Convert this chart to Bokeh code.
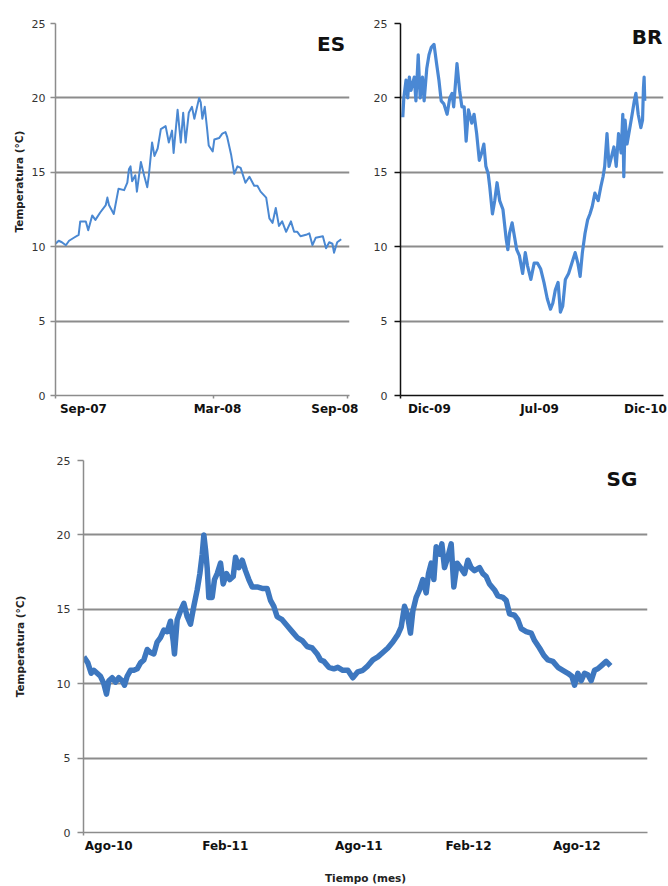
from bokeh.plotting import figure
from bokeh.models import Range1d, FixedTicker, LinearAxis, Label, Grid, Title
from bokeh.layouts import column, row
from bokeh.embed import file_html
from bokeh.resources import INLINE

# ---------------- data (x = days from the start of each axis) ----------------
Y_TICKS = [0, 5, 10, 15, 20, 25]

# ES
es_tick_days = [0, 198, 366]
es_label_days = [35, 203, 350]
es_labels = ["Sep-07", "Mar-08", "Sep-08"]
es_day = [0, 4, 8, 13, 17, 23, 29, 31, 38, 41, 46, 50, 56, 63, 65, 67, 73, 79, 86, 90,
          92, 94, 96, 100, 102, 107, 111, 115, 117, 121, 124, 128, 132, 138, 142, 146, 148, 153, 157, 160,
          163, 167, 171, 174, 180, 182, 184, 187, 190, 192, 197, 199, 205, 209, 213, 215, 220, 224, 228, 232,
          238, 243, 249, 253, 257, 264, 268, 272, 276, 280, 284, 289, 295, 299, 303, 307, 314, 318, 322, 326,
          335, 339, 343, 347, 349, 353, 358]
es_temp = [10.2, 10.4, 10.3, 10.1, 10.4, 10.6, 10.8, 11.7, 11.7, 11.1, 12.1, 11.8, 12.3, 12.8, 13.3, 12.8, 12.2, 13.9, 13.8, 14.3,
           15.2, 15.4, 14.4, 14.8, 13.7, 15.7, 14.8, 14.0, 14.8, 17.0, 16.1, 16.6, 17.9, 18.1, 17.0, 17.8, 16.3, 19.2, 17.0, 19.0,
           17.0, 19.0, 19.4, 18.6, 20.0, 19.7, 18.6, 19.4, 17.9, 16.8, 16.4, 17.2, 17.3, 17.6, 17.7, 17.4, 16.2, 14.9, 15.4, 15.3,
           14.3, 14.7, 14.1, 14.1, 13.7, 13.3, 11.9, 11.6, 12.6, 11.4, 11.7, 11.0, 11.7, 11.0, 11.0, 10.7, 10.8, 10.9, 10.1, 10.6,
           10.7, 9.9, 10.3, 10.2, 9.6, 10.3, 10.5]

# BR
br_tick_days = [0]
br_label_days = [40, 193, 340]
br_labels = ["Dic-09", "Jul-09", "Dic-10"]
br_day = [3.2, 4.6, 7.7, 10.0, 12.3, 14.6, 19.1, 21.4, 24.6, 27.3, 30.5, 32.8, 36.5, 39.6, 42.8,
          46.5, 50.1, 53.3, 56.5, 60.2, 64.7, 68.4, 71.5, 73.8, 78.4, 82.0, 85.2, 88.4, 91.1, 94.3,
          98.9, 102.1, 105.7, 109.4, 112.6, 115.7, 118.5, 121.7, 123.9, 127.6, 130.8, 134.0, 137.6, 142.2, 146.7,
          149.0, 151.3, 154.9, 158.1, 161.3, 165.0, 169.5, 173.2, 176.4, 180.9, 185.5, 190.0, 194.6, 199.1, 203.7,
          208.2, 211.4, 214.9, 218.7, 221.9, 225.1, 228.8, 233.3, 237.9, 242.4, 246.1, 249.3, 252.4, 256.1, 259.7,
          262.9, 266.1, 269.8, 274.3, 277.9, 281.1, 283.4, 286.6, 289.4, 292.6, 296.2, 299.4, 302.6, 306.2, 308.5,
          309.9, 311.7, 314.4, 317.6, 320.8, 324.5, 326.7, 329.9, 333.6, 335.9, 337.2, 338.1, 339.0]
br_temp = [18.7, 20.0, 21.2, 20.0, 21.4, 20.5, 21.4, 19.8, 22.9, 20.0, 21.4, 19.8, 22.0, 22.9, 23.4,
           23.6, 22.3, 21.2, 19.8, 19.6, 18.9, 20.0, 20.3, 19.4, 22.3, 20.5, 19.4, 19.4, 17.1, 19.2,
           18.3, 18.9, 17.6, 15.8, 16.3, 16.9, 15.4, 14.9, 14.0, 12.2, 13.1, 14.3, 13.1, 12.5, 10.5,
           9.8, 10.9, 11.6, 10.7, 9.8, 9.4, 8.2, 9.6, 8.7, 7.8, 8.9, 8.9, 8.5, 7.6, 6.5,
           5.8, 6.2, 7.1, 7.6, 5.6, 6.0, 7.8, 8.2, 8.9, 9.6, 8.9, 8.0, 9.6, 10.9, 11.8,
           12.2, 12.7, 13.6, 13.1, 14.0, 14.7, 15.4, 17.6, 15.4, 16.0, 16.7, 15.4, 17.6, 16.3, 18.9,
           14.7, 18.5, 16.9, 17.8, 18.7, 19.8, 20.3, 18.9, 18.0, 18.5, 20.7, 21.4, 19.8]

# SG
sg_tick_days = [0]
sg_label_days = [40, 225, 437, 611, 783]
sg_labels = ["Ago-10", "Feb-11", "Ago-11", "Feb-12", "Ago-12"]
sg_day = [0.5, 6.9, 12.2, 16.4, 21.7, 27.0, 32.3, 36.5, 40.2, 45.5, 50.8, 56.1, 61.4, 65.1, 69.3,
          74.6, 79.9, 85.2, 90.5, 95.8, 101.1, 106.3, 111.6, 116.9, 122.2, 127.5, 132.8, 138.1, 142.3, 144.4,
          148.7, 154.0, 159.3, 164.6, 169.8, 175.1, 180.4, 184.7, 188.4, 191.0, 193.7, 196.3, 198.9, 204.2, 207.9,
          212.2, 217.5, 221.7, 227.0, 232.3, 237.6, 241.3, 246.6, 251.9, 257.1, 262.4, 267.7, 275.7, 283.6, 291.5,
          296.8, 302.1, 307.4, 315.3, 323.3, 331.2, 339.2, 347.1, 355.0, 363.0, 370.9, 376.2, 381.5, 389.4, 397.4,
          403.7, 411.6, 419.6, 427.5, 435.4, 443.4, 451.3, 459.3, 467.2, 475.1, 483.1, 491.0, 498.9, 504.2, 509.5,
          513.8, 519.0, 522.8, 528.0, 533.3, 538.6, 543.9, 547.6, 551.9, 556.1, 559.8, 565.1, 568.8, 573.0, 578.3,
          583.6, 587.8, 593.1, 598.4, 604.8, 610.1, 615.3, 620.6, 628.6, 633.9, 639.2, 644.4, 652.4, 657.7, 665.6,
          670.9, 676.2, 684.1, 689.4, 694.7, 702.6, 710.6, 715.9, 723.8, 730.7, 737.0, 745.0, 753.0, 760.8, 768.8,
          775.1, 779.4, 784.7, 790.0, 795.2, 800.5, 805.8, 811.1, 816.4, 821.7, 829.6, 836.5]
sg_temp = [11.8, 11.4, 10.7, 10.9, 10.7, 10.5, 10.0, 9.3, 10.2, 10.4, 10.1, 10.4, 10.2, 9.9, 10.5,
           10.9, 10.9, 11.0, 11.4, 11.6, 12.3, 12.1, 12.0, 12.8, 13.1, 13.6, 13.5, 14.2, 12.9, 12.0,
           14.3, 14.9, 15.4, 14.5, 14.0, 15.2, 16.3, 17.4, 18.7, 20.0, 19.0, 17.8, 15.8, 15.8, 17.0,
           17.4, 18.1, 16.7, 17.4, 17.0, 17.2, 18.5, 17.8, 18.3, 17.6, 17.0, 16.5, 16.5, 16.4, 16.4,
           15.6, 15.2, 14.5, 14.3, 13.9, 13.5, 13.1, 12.9, 12.5, 12.4, 12.0, 11.6, 11.5, 11.1, 11.0,
           11.1, 10.9, 10.9, 10.4, 10.8, 10.9, 11.2, 11.6, 11.8, 12.1, 12.4, 12.8, 13.3, 13.8, 15.2,
           14.7, 13.4, 14.9, 15.8, 16.3, 17.0, 16.1, 17.4, 18.1, 17.0, 19.2, 18.7, 19.4, 17.8, 18.5,
           19.4, 16.5, 18.1, 17.8, 17.4, 18.3, 17.8, 17.6, 17.8, 17.4, 17.2, 16.7, 16.3, 15.9, 15.8,
           15.6, 14.7, 14.6, 14.3, 13.7, 13.5, 13.4, 12.9, 12.4, 11.9, 11.6, 11.5, 11.1, 10.9, 10.7,
           10.5, 9.9, 10.7, 10.2, 10.7, 10.6, 10.2, 10.9, 11.0, 11.2, 11.5, 11.2]

Y_TITLE = "Temperatura (°C)"
X_TITLE = "Tiempo (mes)"

# ---------------- styling ----------------
FONT = "DejaVu Sans"
GRID = "#8c8c8c"
TITLE_SIZE = "10.5px"


def panel(width, height, left, right, top, bottom, xmax,
          tick_days, label_days, labels, x_vals, y_vals, line_color, line_width,
          tag, tag_x, tag_y, axis_color=GRID, y_title_mode=None, y_label_standoff=6,
          y_label_offset=0, y_tick_out=5, y_standoff=5, x_label=None, x_label_standoff=5):
    p = figure(width=width, height=height, x_range=Range1d(0, xmax), y_range=Range1d(0, 25),
               x_axis_type=None, y_axis_type=None, output_backend="svg",
               toolbar_location=None, min_border_left=left, min_border_right=right,
               min_border_top=top, min_border_bottom=bottom)
    p.outline_line_color = None
    p.background_fill_color = "white"
    p.border_fill_color = "white"

    yax = LinearAxis(ticker=FixedTicker(ticks=Y_TICKS))
    yax.axis_line_color = axis_color
    yax.axis_line_width = 1.5
    yax.major_tick_line_color = axis_color
    yax.major_tick_line_width = 1.5
    yax.major_tick_out = y_tick_out
    yax.major_tick_in = 0
    yax.minor_tick_line_color = None
    yax.major_label_standoff = y_standoff
    yax.major_label_text_font = FONT
    yax.major_label_text_font_size = "11px"
    yax.major_label_text_color = "#333333"
    if y_title_mode == "axis":
        yax.axis_label = Y_TITLE
        yax.axis_label_text_font = FONT
        yax.axis_label_text_font_size = TITLE_SIZE
        yax.axis_label_text_font_style = "bold"
        yax.axis_label_text_color = "#222222"
        yax.axis_label_standoff = y_label_standoff
    p.add_layout(yax, "left")
    if y_title_mode == "title":
        p.add_layout(Title(text=Y_TITLE, align="left", offset=y_label_offset,
                           standoff=y_label_standoff, text_font=FONT, text_font_size=TITLE_SIZE,
                           text_font_style="bold", text_color="#222222"), "left")

    p.add_layout(Grid(dimension=1, ticker=FixedTicker(ticks=[5, 10, 15, 20, 25]),
                      grid_line_color=GRID, grid_line_width=2))

    # axis line with its tick marks
    xa = LinearAxis(ticker=FixedTicker(ticks=tick_days),
                    major_label_overrides={d: "" for d in tick_days})
    xa.axis_line_color = axis_color
    xa.axis_line_width = 1.5
    xa.major_tick_line_color = axis_color
    xa.major_tick_line_width = 1.5
    xa.major_tick_out = 3
    xa.major_tick_in = 0
    xa.minor_tick_line_color = None
    xa.major_label_text_font_size = "1px"
    xa.major_label_standoff = 0
    p.add_layout(xa, "below")

    # tick labels
    xb = LinearAxis(ticker=FixedTicker(ticks=label_days),
                    major_label_overrides={d: s for d, s in zip(label_days, labels)})
    xb.axis_line_color = None
    xb.major_tick_line_color = None
    xb.major_tick_out = 0
    xb.major_tick_in = 0
    xb.minor_tick_line_color = None
    xb.major_label_standoff = 3
    xb.major_label_text_font = FONT
    xb.major_label_text_font_size = "12px"
    xb.major_label_text_font_style = "bold"
    xb.major_label_text_color = "#111111"
    if x_label:
        xb.axis_label = x_label
        xb.axis_label_text_font = FONT
        xb.axis_label_text_font_size = TITLE_SIZE
        xb.axis_label_text_font_style = "bold"
        xb.axis_label_text_color = "#222222"
        xb.axis_label_standoff = x_label_standoff
    p.add_layout(xb, "below")

    p.line(x_vals, y_vals, line_color=line_color, line_width=line_width, line_join="round")

    p.add_layout(Label(x=tag_x, y=tag_y, text=tag, text_align="right", text_baseline="top",
                       text_font=FONT, text_font_size="20px", text_font_style="bold",
                       text_color="#111111"))
    return p


p_es = panel(370, 430, 55, 21, 20, 35, 368.4, es_tick_days, es_label_days, es_labels,
             es_day, es_temp, "#4a88d2", 2.0, "ES", 363, 24.4,
             y_title_mode="title", y_label_standoff=8, y_label_offset=163)

p_br = panel(298, 430, 26, 5, 23, 33, 365, br_tick_days, br_label_days, br_labels,
             br_day, br_temp, "#4a88d4", 3.2, "BR", 363.6, 24.87,
             axis_color="#111111", y_tick_out=6, y_standoff=7)

p_sg = panel(668, 456, 83, 21, 30, 53, 895.2, sg_tick_days, sg_label_days, sg_labels,
             sg_day, sg_temp, "#3d77bf", 5.5, "SG", 879, 24.53,
             y_title_mode="axis", y_label_standoff=28, y_tick_out=6, y_standoff=7,
             x_label=X_TITLE, x_label_standoff=16)

layout = column(row(p_es, p_br), p_sg)

open("out.html", "w").write(file_html(layout, INLINE))
